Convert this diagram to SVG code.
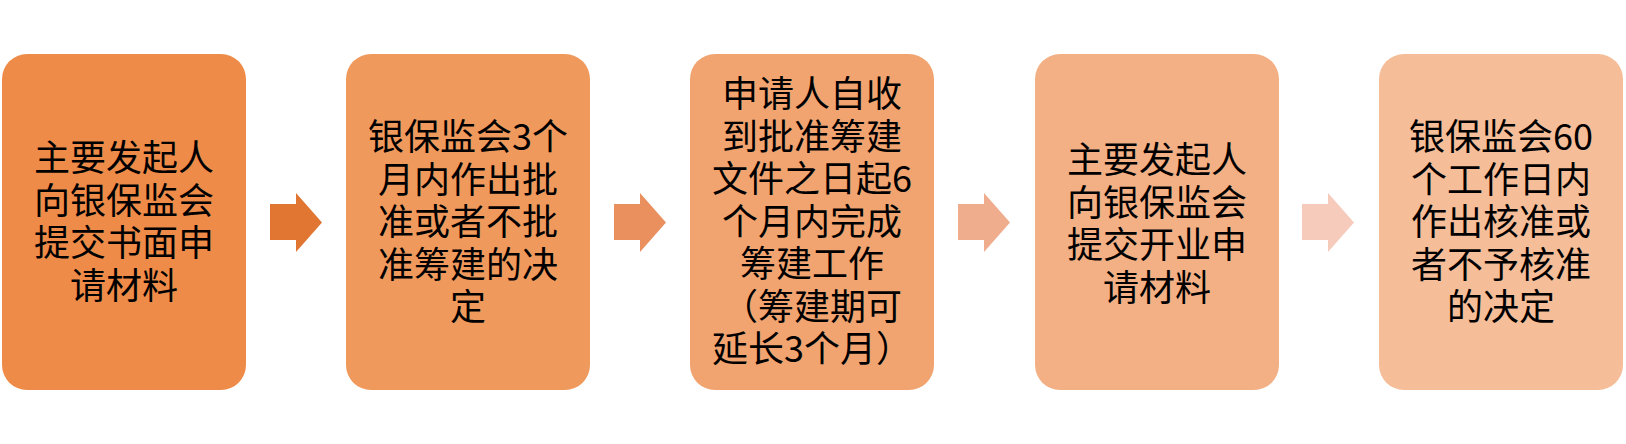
<svg xmlns="http://www.w3.org/2000/svg" width="1626" height="444" viewBox="0 0 1626 444">
<style>
  .box { stroke: none; }
  .lbl { font-family: "Noto Sans CJK SC", "Noto Sans", sans-serif; font-size: 36px; fill: #000000; text-anchor: middle; }
  .arr { stroke: none; }
</style>
<defs>
  <path id="arrowShape" d="M0,11 H26 V0 L52,29.5 L26,59 V47 H0 Z"/>
</defs>
<rect width="1626" height="444" fill="#ffffff"/>
<g id="node1">
  <rect class="box" x="2" y="54" width="244" height="336" rx="25" ry="25" fill="#EE8B48"/>
  <text class="lbl" x="124" y="171">主要发起人</text>
  <text class="lbl" x="124" y="213.5">向银保监会</text>
  <text class="lbl" x="124" y="256">提交书面申</text>
  <text class="lbl" x="124" y="298.5">请材料</text>
</g>
<g id="node2">
  <rect class="box" x="346" y="54" width="244" height="336" rx="25" ry="25" fill="#F0995C"/>
  <text class="lbl" x="468" y="150">银保监会3个</text>
  <text class="lbl" x="468" y="192.5">月内作出批</text>
  <text class="lbl" x="468" y="235">准或者不批</text>
  <text class="lbl" x="468" y="277.5">准筹建的决</text>
  <text class="lbl" x="468" y="320">定</text>
</g>
<g id="node3">
  <rect class="box" x="690" y="54" width="244" height="336" rx="25" ry="25" fill="#F1A470"/>
  <text class="lbl" x="812" y="107">申请人自收</text>
  <text class="lbl" x="812" y="149.5">到批准筹建</text>
  <text class="lbl" x="812" y="192">文件之日起6</text>
  <text class="lbl" x="812" y="234.5">个月内完成</text>
  <text class="lbl" x="812" y="277">筹建工作</text>
  <text class="lbl" x="812" y="319.5">（筹建期可</text>
  <text class="lbl" x="812" y="362">延长3个月）</text>
</g>
<g id="node4">
  <rect class="box" x="1035" y="54" width="244" height="336" rx="25" ry="25" fill="#F3B085"/>
  <text class="lbl" x="1157" y="173">主要发起人</text>
  <text class="lbl" x="1157" y="215.5">向银保监会</text>
  <text class="lbl" x="1157" y="258">提交开业申</text>
  <text class="lbl" x="1157" y="300.5">请材料</text>
</g>
<g id="node5">
  <rect class="box" x="1379" y="54" width="244" height="336" rx="25" ry="25" fill="#F5BD98"/>
  <text class="lbl" x="1501" y="150">银保监会60</text>
  <text class="lbl" x="1501" y="192.5">个工作日内</text>
  <text class="lbl" x="1501" y="235">作出核准或</text>
  <text class="lbl" x="1501" y="277.5">者不予核准</text>
  <text class="lbl" x="1501" y="320">的决定</text>
</g>
<g id="connectors">
  <use href="#arrowShape" x="270" y="193" fill="#E17632"/>
  <use href="#arrowShape" x="614" y="193" fill="#EA905F"/>
  <use href="#arrowShape" x="958" y="193" fill="#EFAD8E"/>
  <use href="#arrowShape" x="1302" y="193" fill="#F6CBBC"/>
</g>
</svg>
